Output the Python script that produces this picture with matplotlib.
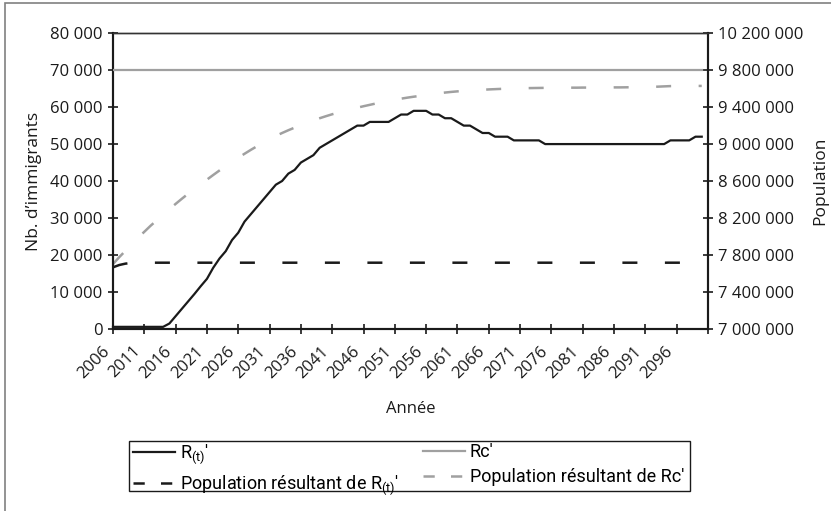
# -*- coding: utf-8 -*-

import numpy as np
import matplotlib.pyplot as plt
from matplotlib.ticker import FuncFormatter
from matplotlib.patches import Rectangle
from matplotlib.lines import Line2D
from matplotlib.transforms import ScaledTranslation
from matplotlib import font_manager

# Données
years = np.arange(2006, 2101)

# R(t)' : nombre d'immigrants (axe de gauche)
r_t = [500, 500, 500, 500, 500, 500, 500, 500, 500, 1400,          # 2006-2015
       3400, 5400, 7400, 9400, 11500, 13500, 16500, 19000, 21000, 24000,  # 2016-2025
       26000, 29000, 31000, 33000, 35000, 37000, 39000, 40000, 42000, 43000,  # 2026-2035
       45000, 46000, 47000, 49000, 50000, 51000, 52000, 53000, 54000, 55000,  # 2036-2045
       55000, 56000, 56000, 56000, 56000, 57000, 58000, 58000, 59000, 59000,  # 2046-2055
       59000, 58000, 58000, 57000, 57000, 56000, 55000, 55000, 54000, 53000,  # 2056-2065
       53000, 52000, 52000, 52000, 51000, 51000, 51000, 51000, 51000, 50000,  # 2066-2075
       50000, 50000, 50000, 50000, 50000, 50000, 50000, 50000, 50000, 50000,  # 2076-2085
       50000, 50000, 50000, 50000, 50000, 50000, 50000, 50000, 50000, 51000,  # 2086-2095
       51000, 51000, 51000, 52000, 52000]                                     # 2096-2100

# Rc' : constant
rc = [70000] * len(years)

# Population résultant de R(t)' (axe de droite)
pop_r_t = [7665000, 7690000, 7705000, 7712000] + [7715000] * (len(years) - 4)

# Population résultant de Rc' (axe de droite, en milliers)
pop_rc_k = [7700, 7775, 7845, 7915, 7985, 8050, 8115, 8175, 8235, 8295,    # 2006-2015
            8352, 8408, 8462, 8514, 8565, 8615, 8665, 8714, 8762, 8808,    # 2016-2025
            8852, 8895, 8937, 8977, 9016, 9053, 9088, 9120, 9150, 9178,    # 2026-2035
            9205, 9232, 9257, 9280, 9302, 9323, 9343, 9361, 9378, 9394,    # 2036-2045
            9410, 9425, 9440, 9454, 9467, 9480, 9492, 9503, 9513, 9522,    # 2046-2055
            9532, 9541, 9550, 9558, 9565, 9571, 9576, 9580, 9584, 9588,    # 2056-2065
            9592, 9595, 9598, 9600, 9602, 9604, 9606, 9607, 9608, 9609,    # 2066-2075
            9610, 9610, 9611, 9611, 9611, 9612, 9612, 9612, 9613, 9613,    # 2076-2085
            9614, 9614, 9615, 9616, 9617, 9618, 9620, 9622, 9625, 9628,    # 2086-2095
            9629, 9629, 9630, 9630, 9630]                                  # 2096-2100
pop_rc = [v * 1000 for v in pop_rc_k]

x_ticks = list(range(2006, 2097, 5))
left_ticks = list(range(0, 80001, 10000))
right_ticks = list(range(7000000, 10200001, 400000))


def fmt_space(v, pos=None):
    return "{:,}".format(int(v)).replace(",", " ")


def main():
    names = {f.name for f in font_manager.fontManager.ttflist}
    main_font = [n for n in ["Open Sans", "Lato", "Noto Sans"] if n in names][:1] + ["DejaVu Sans"]
    narrow = [n for n in ["Liberation Sans Narrow", "Roboto"] if n in names][:1] + main_font
    plt.rcParams['font.family'] = main_font

    W, H = 831, 511
    fig = plt.figure(figsize=(W / 100, H / 100), dpi=100)
    ax = fig.add_axes([113 / W, 1 - 328.7 / H, (708 - 113) / W, 295.4 / H])
    ax2 = ax.twinx()

    black = "#1a1a1a"
    gray = "#a0a0a0"

    l1, = ax.plot(years, r_t, color=black, lw=1.6, zorder=4, clip_on=False)
    l2, = ax.plot(years, rc, color=gray, lw=1.6, zorder=3)
    ax2.plot(years, pop_r_t, color=black, lw=1.8, dashes=(6, 11))
    ax2.plot(years, pop_rc, color=gray, lw=1.8, dashes=(6, 11))

    # axes
    ax.set_xlim(2006, 2100.7)
    ax.set_ylim(0, 80000)
    ax2.set_ylim(7000000, 10200000)

    ax.set_xticks(x_ticks + [2101])
    ax.set_xticklabels([str(y) for y in x_ticks] + [""], rotation=45,
                       ha="right", va="center", rotation_mode="anchor")
    ax.set_yticks(left_ticks)
    ax.yaxis.set_major_formatter(FuncFormatter(fmt_space))
    ax2.set_yticks(right_ticks)
    ax2.yaxis.set_major_formatter(FuncFormatter(fmt_space))

    for a in (ax, ax2):
        for s in a.spines.values():
            s.set_color(black)
            s.set_linewidth(1.5)
        a.spines["top"].set_linewidth(1.0)
        a.spines["top"].set_color("#333333")
        a.tick_params(direction="inout", length=7, width=1.2, colors=black,
                      labelsize=12)
    ax.tick_params(axis="x", pad=11)
    ax.tick_params(axis="y", pad=4)
    ax2.tick_params(axis="y", pad=4)
    off = ScaledTranslation(-6 / 100, 0, fig.dpi_scale_trans)
    for lab in ax.get_xticklabels():
        lab.set_transform(lab.get_transform() + off)

    ax.patch.set_alpha(0.0)
    ax.set_zorder(ax2.get_zorder() + 1)

    ax.set_xlabel("Année", fontsize=12, color=black, labelpad=14)
    ax.set_ylabel("Nb. d’immigrants", fontsize=12.5, color=black, labelpad=6)
    ax2.set_ylabel("Population", fontsize=12.5, color=black, labelpad=6)

    # légende (deux colonnes, cadre dessiné à part)
    h3 = Line2D([], [], color=black, lw=1.8, dashes=(4.5, 6.5))
    h4 = Line2D([], [], color=gray, lw=1.8, dashes=(4.5, 6.5))
    lab_r = r"R$_{\mathregular{(t)}}$'"
    lab_pr = r"Population résultant de R$_{\mathregular{(t)}}$'"
    lab_rc = "Rc'"
    lab_prc = "Population résultant de Rc'"
    common = dict(loc="upper left", frameon=False, handlelength=2.3,
                  handletextpad=0.3, borderpad=0.0, borderaxespad=0.0,
                  labelspacing=0.4, prop={"family": narrow, "size": 13})
    fig.legend([l1, h3], [lab_r, lab_pr],
               bbox_to_anchor=(133 / W, 1 - 443 / H), **common)
    fig.legend([l2, h4], [lab_rc, lab_prc],
               bbox_to_anchor=(423 / W, 1 - 443 / H), **common)
    fig.patches.append(Rectangle((129 / W, 1 - 491 / H), (690 - 129) / W, 50 / H,
                                 transform=fig.transFigure, fill=False,
                                 edgecolor=black, lw=1.0))

    # cadre extérieur
    fig.patches.append(Rectangle((5 / W, -0.2), 1.2, 1.2 - 3 / H,
                                 transform=fig.transFigure, fill=False,
                                 edgecolor="#808080", lw=1.2))

    fig.savefig("out.png", dpi=100)


if __name__ == '__main__':
    main()
